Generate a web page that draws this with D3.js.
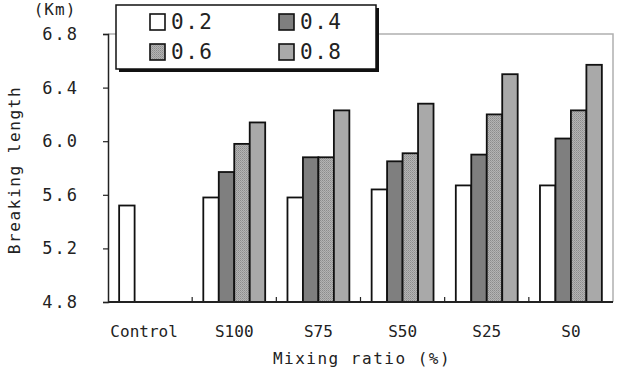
<!DOCTYPE html>
<html>
<head>
<meta charset="utf-8">
<script src="https://cdn.jsdelivr.net/npm/d3@7"></script>
<style>
  body { margin: 0; background: #fff; }
  text { font-family: "DejaVu Sans Mono", monospace; fill: #222; }
</style>
</head>
<body>
<div id="chart"></div>
<script>
// categories, series and values
const categories = ['Control', 'S100', 'S75', 'S50', 'S25', 'S0']
const series = ['0.2', '0.4', '0.6', '0.8']
const values = {
    '0.2': [5.52, 5.58, 5.58, 5.64, 5.67, 5.67],
    '0.4': [null, 5.77, 5.88, 5.85, 5.90, 6.02],
    '0.6': [null, 5.98, 5.88, 5.91, 6.20, 6.23],
    '0.8': [null, 6.14, 6.23, 6.28, 6.50, 6.57]
}
const yTicks = [4.8, 5.2, 5.6, 6.0, 6.4, 6.8]

const width = 621, height = 369
const margin = { top: 34, right: 8, bottom: 67, left: 108 }

const svg = d3.select('#chart').append('svg')
    .attr('width', width)
    .attr('height', height)

// dotted fill for the 0.6 bars
const defs = svg.append('defs')
const pat = defs.append('pattern')
    .attr('id', 'dots')
    .attr('width', 2).attr('height', 2)
    .attr('patternUnits', 'userSpaceOnUse')
pat.append('rect').attr('width', 2).attr('height', 2).attr('fill', '#b4b4b4')
pat.append('rect').attr('width', 1).attr('height', 1).attr('fill', '#8c8c8c')
pat.append('rect').attr('x', 1).attr('y', 1).attr('width', 1).attr('height', 1).attr('fill', '#9c9c9c')

const fills = ['#ffffff', '#7f7f7f', 'url(#dots)', '#a9a9a9']
const color = d3.scaleOrdinal().domain(series).range(fills)

const x = d3.scaleBand()
    .domain(categories)
    .range([margin.left, width - margin.right])
const xs = d3.scaleBand()
    .domain(series)
    .range([0, x.bandwidth()])
    .paddingInner(0)
    .paddingOuter(0.72)
const y = d3.scaleLinear()
    .domain([4.8, 6.8])
    .range([height - margin.bottom, margin.top])

// light frame top/right
svg.append('path')
    .attr('d', `M${margin.left},${margin.top}H${width - margin.right}V${height - margin.bottom}`)
    .attr('fill', 'none')
    .attr('stroke', '#b0b0b0')
    .attr('stroke-width', 1.5)

// bars
const rows = []
series.forEach(s => values[s].forEach((v, i) => {
    if (v != null) rows.push({ s, cat: categories[i], v })
}))
svg.append('g').selectAll('rect')
    .data(rows)
    .enter()
    .append('rect')
    .attr('x', d => x(d.cat) + xs(d.s))
    .attr('y', d => y(d.v))
    .attr('width', xs.bandwidth())
    .attr('height', d => y(4.8) - y(d.v))
    .attr('fill', d => color(d.s))
    .attr('stroke', '#111')
    .attr('stroke-width', 1.8)

// y axis
const yAxis = svg.append('g')
    .attr('transform', `translate(${margin.left},0)`)
    .call(d3.axisLeft(y).tickValues(yTicks).tickFormat(d3.format('.1f')).tickSize(5).tickPadding(24))
yAxis.select('.domain').attr('stroke', '#222').attr('stroke-width', 1.5)
yAxis.selectAll('.tick line').attr('stroke', '#222').attr('stroke-width', 1.2)
yAxis.selectAll('text')
    .attr('font-size', 17)
    .attr('letter-spacing', 2)
    .attr('font-family', '"DejaVu Sans Mono", monospace')
    .attr('fill', '#222')

// x axis: inward ticks at category boundaries
const xAxis = svg.append('g')
    .attr('transform', `translate(0,${height - margin.bottom})`)
xAxis.append('line')
    .attr('x1', margin.left).attr('x2', width - margin.right)
    .attr('stroke', '#222').attr('stroke-width', 1.8)
xAxis.selectAll('.sep')
    .data(categories.slice(1))
    .enter()
    .append('line')
    .attr('x1', d => x(d)).attr('x2', d => x(d))
    .attr('y1', 0).attr('y2', -5)
    .attr('stroke', '#222').attr('stroke-width', 1.2)
xAxis.selectAll('.lbl')
    .data(categories)
    .enter()
    .append('text')
    .attr('x', d => x(d) + x.bandwidth() / 2 - (d === 'Control' ? 6 : 0))
    .attr('y', 35)
    .attr('text-anchor', 'middle')
    .attr('font-size', 16)
    .text(d => d)

// axis titles
svg.append('text')
    .attr('x', 362).attr('y', 364)
    .attr('text-anchor', 'middle')
    .attr('font-size', 16)
    .attr('letter-spacing', 1.5)
    .text('Mixing ratio (%)')
svg.append('text')
    .attr('transform', 'translate(20,170) rotate(-90)')
    .attr('text-anchor', 'middle')
    .attr('font-size', 16)
    .attr('letter-spacing', 1.6)
    .text('Breaking length')
svg.append('text')
    .attr('x', 55).attr('y', 15)
    .attr('text-anchor', 'middle')
    .attr('font-size', 16)
    .attr('letter-spacing', 1)
    .text('(Km)')

// legend with drop shadow
const lg = svg.append('g').attr('class', 'legend_wrapper')
lg.append('rect')
    .attr('x', 119).attr('y', 8).attr('width', 260).attr('height', 64)
    .attr('fill', '#111')
lg.append('rect')
    .attr('x', 116).attr('y', 5).attr('width', 260).attr('height', 64)
    .attr('fill', '#fff').attr('stroke', '#111').attr('stroke-width', 1.5)
const items = lg.selectAll('.item')
    .data(series)
    .enter()
    .append('g')
    .attr('transform', (d, i) => `translate(${150 + (i % 2) * 129},${14 + Math.floor(i / 2) * 30})`)
items.append('rect')
    .attr('width', 15).attr('height', 16)
    .attr('fill', d => color(d))
    .attr('stroke', '#111').attr('stroke-width', 1.6)
items.append('text')
    .attr('x', 21).attr('y', 15)
    .attr('font-size', 21)
    .attr('letter-spacing', 1.5)
    .text(d => d)
</script>
</body>
</html>
